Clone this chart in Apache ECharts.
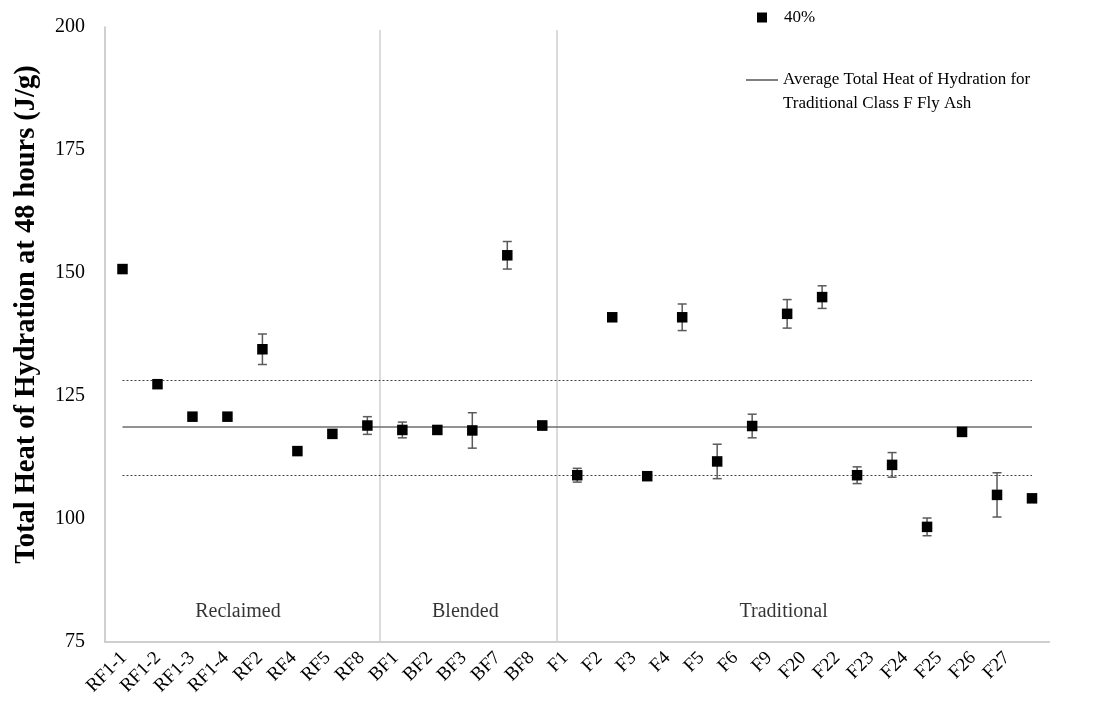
<!DOCTYPE html>
<html>
<head>
<meta charset="utf-8">
<script src="https://cdn.jsdelivr.net/npm/echarts@6/dist/echarts.min.js"></script>
<style>
html,body{margin:0;padding:0;background:#fff;}
#chart{width:1110px;height:719px;}
</style>
</head>
<body>
<div id="chart"></div>
<script>
const categories = ['RF1-1','RF1-2','RF1-3','RF1-4','RF2','RF4','RF5','RF8','BF1','BF2','BF3','BF7','BF8','F1','F2','F3','F4','F5','F6','F9','F20','F22','F23','F24','F25','F26','F27'];
const values = [150.8,127.4,120.8,120.8,134.5,113.8,117.3,119.0,118.1,118.1,118.0,153.6,119.0,108.9,141.0,108.7,141.0,111.7,118.9,141.7,145.1,108.9,111.0,98.4,117.7,104.9,104.2];
const errors = [0,0,0.8,0.8,3.1,0,0,1.8,1.6,0.8,3.6,2.8,0.9,1.4,0,0,2.7,3.5,2.4,2.9,2.3,1.7,2.5,1.8,0,4.5,0];
const yTicks = {min:75, max:200, interval:25};
const averageValue = 118.8;
const averageUpper = 128.1;
const averageLower = 108.9;
const dividerPositions = [7.34, 12.4];
const groupNames = ['Reclaimed','Blended','Traditional'];
const groupX = [3.3, 9.8, 18.9];
const groupY = 81.1;
const seriesName = '40%';
const avgName = 'Average Total Heat of Hydration for Traditional Class F Fly Ash';
const avgLegendLines = ['Average Total Heat of Hydration for', 'Traditional Class F Fly Ash'];
const yTitle = 'Total Heat of Hydration at 48 hours (J/g)';

const FONT = "'Liberation Serif','Times New Roman',serif";
const chart = echarts.init(document.getElementById('chart'), null, {renderer:'canvas'});

const errData = [];
values.forEach((v,i)=>{ if(errors[i]>0) errData.push([i, v-errors[i], v+errors[i]]); });

function renderErr(params, api){
  const x = api.value(0);
  const lo = api.coord([x, api.value(1)]);
  const hi = api.coord([x, api.value(2)]);
  const cap = 4.5;
  const style = {stroke:'#5a5a5a', lineWidth:1.5};
  return {type:'group', children:[
    {type:'line', shape:{x1:lo[0],y1:lo[1],x2:hi[0],y2:hi[1]}, style:style},
    {type:'line', shape:{x1:lo[0]-cap,y1:lo[1],x2:lo[0]+cap,y2:lo[1]}, style:style},
    {type:'line', shape:{x1:hi[0]-cap,y1:hi[1],x2:hi[0]+cap,y2:hi[1]}, style:style}
  ]};
}

const option = {
  backgroundColor:'#fff',
  animation:false,
  grid:[
    {left:105, right:60.5, top:27, bottom:77, containLabel:false},
    {left:107, right:86, top:27, bottom:77, containLabel:false}
  ],
  legend:[
    {data:[seriesName], left:757, top:9, padding:0, itemWidth:10, itemHeight:10, icon:'rect',
     itemStyle:{opacity:1},
     textStyle:{fontFamily:FONT, fontSize:17, color:'#000', padding:[0,0,0,12]}},
    {data:[{name:avgName, icon:'rect'}], left:746, top:44, padding:0, itemWidth:32, itemHeight:1.5,
     formatter:()=> ' \n' + avgLegendLines.join('\n'),
     textStyle:{fontFamily:FONT, fontSize:17, color:'#000', lineHeight:24}}
  ],
  xAxis:[
    {type:'category', data:categories, boundaryGap:true, gridIndex:0,
     axisLine:{show:true, onZero:false, lineStyle:{color:'#c0c0c0', width:1.5}},
     axisTick:{show:false},
     axisLabel:{show:false},
     splitLine:{show:false}},
    {type:'value', min:-0.5, max:26.5, show:false, gridIndex:0},
    {type:'category', data:categories, boundaryGap:true, gridIndex:1,
     axisLine:{show:false}, axisTick:{show:false}, splitLine:{show:false},
     axisLabel:{rotate:45, fontFamily:FONT, fontSize:19, color:'#000', margin:13, interval:0}}
  ],
  yAxis:[
    {type:'value', min:yTicks.min, max:yTicks.max, interval:yTicks.interval, gridIndex:0,
    axisLine:{show:true, onZero:false, lineStyle:{color:'#c0c0c0', width:1.5}},
    axisTick:{show:false}, splitLine:{show:false},
    axisLabel:{fontFamily:FONT, fontSize:20, color:'#000', margin:20},
    name:yTitle, nameLocation:'middle', nameGap:64, nameRotate:90,
    nameTextStyle:{fontFamily:FONT, fontSize:28.5, fontWeight:'bold', color:'#000', padding:[0,0,0,40]}
    },
    {type:'value', min:yTicks.min, max:yTicks.max, gridIndex:1, show:false}
  ],
  series:[
    {name:'dividers', type:'scatter', xAxisIndex:1, yAxisIndex:0, data:[], silent:true,
     markLine:{silent:true, symbol:'none', label:{show:false},
       lineStyle:{color:'#cfcfcf', width:1.5, type:'solid'},
       data: dividerPositions.map(p=>[{coord:[p, 75.01]},{coord:[p, 199.4]}])}},
    {name:'groups', type:'scatter', xAxisIndex:1, yAxisIndex:0, symbolSize:0, silent:true,
     data: groupNames.map((g,i)=>({value:[groupX[i], groupY], name:g})),
     label:{show:true, position:'inside', formatter:p=>p.name, fontFamily:FONT, fontSize:20, color:'#000'}},
    {name:avgName, type:'line', data:[], symbol:'none', lineStyle:{color:'#6e6e6e', width:1.5},
     itemStyle:{color:'#555'},
     markLine:{silent:true, symbol:'none', label:{show:false},
       data:[
         [{coord:[categories[0], averageValue], lineStyle:{color:'#6e6e6e', width:1.5, type:'solid'}},
          {coord:[categories[categories.length-1], averageValue]}],
         [{coord:[categories[0], averageUpper], lineStyle:{color:'#444', width:1, type:[2,2]}},
          {coord:[categories[categories.length-1], averageUpper]}],
         [{coord:[categories[0], averageLower], lineStyle:{color:'#444', width:1, type:[2,2]}},
          {coord:[categories[categories.length-1], averageLower]}]
       ]}},
    {name:'err', type:'custom', renderItem:renderErr, data:errData, z:3, silent:true},
    {name:seriesName, type:'scatter', data:values, symbol:'rect', symbolSize:10.5, z:5,
     itemStyle:{color:'#000', opacity:1}}
  ]
};
chart.setOption(option);
</script>
</body>
</html>
